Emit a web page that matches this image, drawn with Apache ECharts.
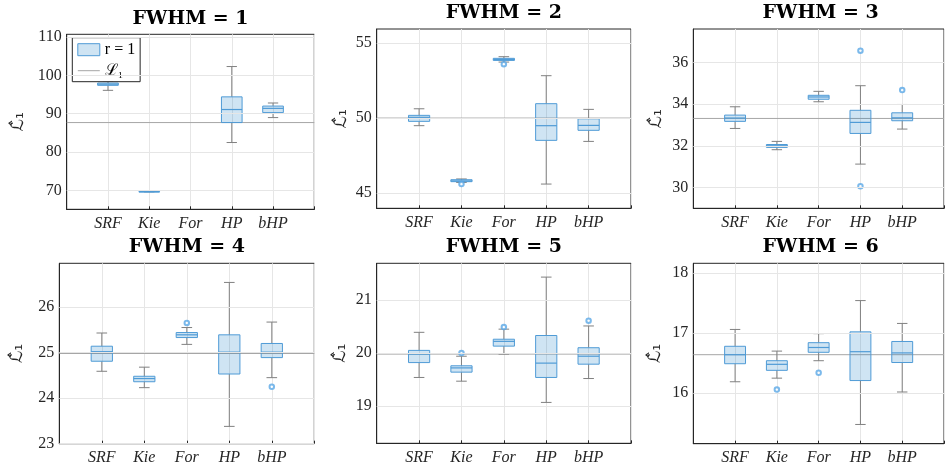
<!DOCTYPE html>
<html>
<head>
<meta charset="utf-8">
<script src="https://cdn.jsdelivr.net/npm/echarts@6/dist/echarts.min.js"></script>
<style>html,body{margin:0;padding:0;background:#fff}#c{width:947px;height:469px}</style>
</head>
<body>
<div id="c"></div>
<script>
// ---------- data ----------
const categories = ['SRF', 'Kie', 'For', 'HP', 'bHP'];
const panelTitles = ['FWHM = 1', 'FWHM = 2', 'FWHM = 3', 'FWHM = 4', 'FWHM = 5', 'FWHM = 6'];
// each box: [lower whisker, Q1, median, Q3, upper whisker]; null = no data
const boxesFwhm1 = [[96.1, 97.4, 97.7, 98.0, 98.4], [69.65, 69.68, 69.7, 69.72, 69.75], null, [82.5, 87.7, 91.1, 94.4, 102.3], [89.0, 90.3, 91.4, 92.0, 92.8]];
const boxesFwhm2 = [[49.49, 49.78, 50.05, 50.18, 50.62], [45.7, 45.75, 45.8, 45.88, 45.93], [53.74, 53.85, 53.92, 53.99, 54.1], [45.59, 48.51, 49.49, 50.96, 52.83], [48.44, 49.18, 49.51, 49.95, 50.58]];
const boxesFwhm3 = [[32.83, 33.17, 33.33, 33.47, 33.87], [31.81, 31.92, 32.0, 32.06, 32.21], [34.11, 34.23, 34.34, 34.42, 34.61], [31.12, 32.59, 33.12, 33.70, 34.88], [32.8, 33.2, 33.34, 33.58, 33.98]];
const boxesFwhm4 = [[24.59, 24.81, 25.02, 25.14, 25.43], [24.23, 24.36, 24.43, 24.48, 24.68], [25.18, 25.33, 25.39, 25.44, 25.55], [23.38, 24.53, 25.01, 25.39, 26.54], [24.45, 24.89, 25.01, 25.2, 25.67]];
const boxesFwhm5 = [[19.54, 19.82, 19.98, 20.05, 20.39], [19.47, 19.64, 19.72, 19.76, 19.94], [19.98, 20.13, 20.22, 20.26, 20.45], [19.07, 19.54, 19.81, 20.33, 21.43], [19.52, 19.79, 19.94, 20.10, 20.51]];
const boxesFwhm6 = [[16.19, 16.49, 16.64, 16.78, 17.06], [16.25, 16.38, 16.48, 16.54, 16.7], [16.54, 16.68, 16.76, 16.84, 16.99], [15.48, 16.21, 16.69, 17.02, 17.54], [16.02, 16.51, 16.67, 16.86, 17.16]];
// outliers: [category name, value]
const outliersFwhm1 = [];
const outliersFwhm2 = [['Kie', 45.59], ['For', 53.6]];
const outliersFwhm3 = [['HP', 36.56], ['HP', 30.06], ['bHP', 34.67]];
const outliersFwhm4 = [['For', 25.65], ['bHP', 24.25]];
const outliersFwhm5 = [['Kie', 20.0], ['For', 20.49], ['bHP', 20.61]];
const outliersFwhm6 = [['Kie', 16.06], ['For', 16.34]];
// true value L1 (reference line)
const referenceValues = [87.7, 50.0, 33.31, 24.98, 19.98, 16.64];
// y-axis ticks and limits
const yTicks1 = [70, 80, 90, 100, 110];
const yTicks2 = [45, 50, 55];
const yTicks3 = [30, 32, 34, 36];
const yTicks4 = [23, 24, 25, 26];
const yTicks5 = [19, 20, 21];
const yTicks6 = [16, 17, 18];
const yLimits = [[65.1, 110.7], [43.97, 55.95], [29.0, 37.6], [23.0, 26.96], [18.3, 21.69], [15.16, 18.16]];
const seriesName = 'r = 1';
const refName = 'ℒ₁';
const yAxisName = 'ℒ̂₁';

// ---------- layout ----------
const layout = [
  {left: 66.7, top: 34.3, width: 247.6, height: 175, nameGap: 40, titleY: 18.3},
  {left: 376.7, top: 29, width: 254.3, height: 179.3, nameGap: 27, titleY: 12.6},
  {left: 693.3, top: 29, width: 254.7, height: 179.3, nameGap: 28, titleY: 12.6},
  {left: 59.3, top: 263.3, width: 255, height: 180.4, nameGap: 33, titleY: 246.7},
  {left: 376.7, top: 263.3, width: 254.3, height: 180, nameGap: 28, titleY: 246.7},
  {left: 693.3, top: 263.3, width: 254.7, height: 180.4, nameGap: 29, titleY: 246.7}
];
const allBoxes = [boxesFwhm1, boxesFwhm2, boxesFwhm3, boxesFwhm4, boxesFwhm5, boxesFwhm6];
const allOutliers = [outliersFwhm1, outliersFwhm2, outliersFwhm3, outliersFwhm4, outliersFwhm5, outliersFwhm6];
const allTicks = [yTicks1, yTicks2, yTicks3, yTicks4, yTicks5, yTicks6];

const BLUE = '#4f9bd6';
const FILL = 'rgba(0,114,189,0.19)';
const WHISK = '#808080';
const AXC = '#262626';
const GRIDC = '#e6e6e6';
const REFC = '#a6a6a6';
const SERIF = "'Liberation Serif', 'DejaVu Serif', serif";

function renderBox(params, api) {
  const x = api.value(0);
  const band = api.size([1, 0])[0];
  const bw = band * 0.5, cw = band * 0.25;
  const pLo = api.coord([x, api.value(1)]);
  const pQ1 = api.coord([x, api.value(2)]);
  const pMed = api.coord([x, api.value(3)]);
  const pQ3 = api.coord([x, api.value(4)]);
  const pHi = api.coord([x, api.value(5)]);
  const cx = pLo[0];
  const ws = {stroke: WHISK, lineWidth: 1};
  return {
    type: 'group',
    children: [
      {type: 'line', shape: {x1: cx, y1: pHi[1], x2: cx, y2: pQ3[1]}, style: ws},
      {type: 'line', shape: {x1: cx, y1: pQ1[1], x2: cx, y2: pLo[1]}, style: ws},
      {type: 'line', shape: {x1: cx - cw / 2, y1: pHi[1], x2: cx + cw / 2, y2: pHi[1]}, style: ws},
      {type: 'line', shape: {x1: cx - cw / 2, y1: pLo[1], x2: cx + cw / 2, y2: pLo[1]}, style: ws},
      {type: 'rect', shape: {x: cx - bw / 2, y: pQ3[1], width: bw, height: Math.max(pQ1[1] - pQ3[1], 0.5)}, style: {fill: FILL, stroke: BLUE, lineWidth: 1}},
      {type: 'line', shape: {x1: cx - bw / 2, y1: pMed[1], x2: cx + bw / 2, y2: pMed[1]}, style: {stroke: BLUE, lineWidth: 1.2}}
    ]
  };
}

const grids = [], xAxes = [], yAxes = [], series = [], titles = [];
layout.forEach((L, i) => {
  grids.push({left: L.left, top: L.top, width: L.width, height: L.height, show: true, borderColor: AXC, borderWidth: 1, backgroundColor: 'transparent'});
  titles.push({text: panelTitles[i], left: L.left + L.width / 2, top: L.titleY - 9, textAlign: 'center', padding: 0,
    textStyle: {fontFamily: "'DejaVu Serif', serif", fontWeight: 'bold', fontSize: 19, color: '#000'}});
  xAxes.push({type: 'value', gridIndex: i, min: 0, max: 6, interval: 1,
    axisLine: {show: true, lineStyle: {color: AXC}},
    axisTick: {show: true, inside: true, length: 3, lineStyle: {color: AXC}},
    axisLabel: {formatter: v => categories[v - 1] || '', fontFamily: SERIF, fontStyle: 'italic', fontSize: 16, color: AXC, margin: 6},
    splitLine: {show: true, lineStyle: {color: GRIDC, width: 1}}
  });
  yAxes.push({type: 'value', gridIndex: i, min: yLimits[i][0], max: yLimits[i][1],
    name: yAxisName, nameLocation: 'middle', nameGap: L.nameGap, nameRotate: 90,
    nameTextStyle: {fontFamily: "'DejaVu Sans', sans-serif", fontSize: 17, color: AXC},
    axisLine: {show: true, lineStyle: {color: AXC}},
    axisTick: {show: true, inside: true, length: 3, customValues: allTicks[i], lineStyle: {color: AXC}},
    axisLabel: {customValues: allTicks[i], fontFamily: SERIF, fontSize: 16, color: AXC, margin: 5},
    splitLine: {show: false}
  });
  series.push({
    type: 'line', name: refName, xAxisIndex: i, yAxisIndex: i, z: 2,
    data: [[0, referenceValues[i]], [6, referenceValues[i]]],
    symbol: 'emptyCircle', showSymbol: false, color: REFC,
    lineStyle: {color: REFC, width: 1}, animation: false, silent: true,
    markLine: {silent: true, symbol: ['none', 'none'], label: {show: false}, animation: false,
      lineStyle: {color: GRIDC, width: 1, type: 'solid'},
      emphasis: {disabled: true},
      data: allTicks[i].map(v => ({yAxis: v}))}
  });
  const boxData = [];
  allBoxes[i].forEach((b, k) => { if (b) boxData.push([k + 1].concat(b)); });
  series.push({
    type: 'custom', name: seriesName, xAxisIndex: i, yAxisIndex: i, z: 3,
    renderItem: renderBox, data: boxData, encode: {x: 0, y: [1, 2, 3, 4, 5]},
    itemStyle: {color: FILL, borderColor: BLUE}, animation: false, silent: true
  });
  series.push({
    type: 'scatter', name: seriesName, xAxisIndex: i, yAxisIndex: i, z: 4,
    data: allOutliers[i].map(o => [categories.indexOf(o[0]) + 1, o[1]]),
    symbol: 'emptyCircle', symbolSize: 4.5, itemStyle: {color: '#5aa8e6', borderColor: '#5aa8e6', borderWidth: 0.9},
    animation: false, silent: true
  });
});

const chart = echarts.init(document.getElementById('c'), null, {renderer: 'canvas'});
chart.setOption({
  backgroundColor: '#fff',
  animation: false,
  title: titles,
  grid: grids,
  xAxis: xAxes,
  yAxis: yAxes,
  legend: {
    orient: 'vertical', left: 72.3, top: 37.7, padding: [4, 5, 3, 5], itemGap: 5,
    itemWidth: 22, itemHeight: 12,
    borderColor: AXC, borderWidth: 1, backgroundColor: '#fff', selectedMode: false,
    textStyle: {fontFamily: SERIF, fontSize: 16, color: '#000'},
    data: [
      {name: seriesName, icon: 'rect', itemStyle: {color: FILL, borderColor: BLUE, borderWidth: 1}},
      {name: refName, itemStyle: {opacity: 0, color: 'rgba(0,0,0,0)', borderColor: 'rgba(0,0,0,0)', borderWidth: 0}, lineStyle: {color: REFC, width: 1, opacity: 1}}
    ]
  },
  series: series
});
</script>
</body>
</html>
